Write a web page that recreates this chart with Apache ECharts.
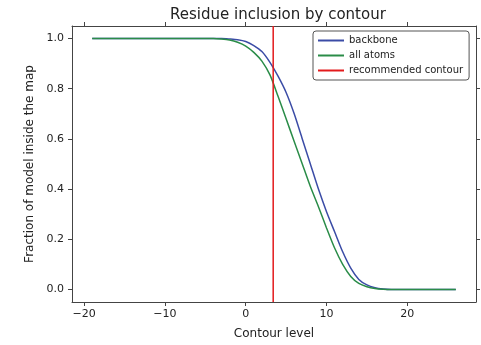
<!DOCTYPE html>
<html>
<head>
<meta charset="utf-8">
<script src="https://cdn.jsdelivr.net/npm/echarts@6/dist/echarts.min.js"></script>
<style>html,body{margin:0;padding:0;background:#fff}#c{width:481px;height:345px}</style>
</head>
<body>
<div id="c"></div>
<script>
const contour = [-19,-18,-17,-16,-15,-14,-13,-12,-11,-10,-9,-8,-7,-6,-5,-4,-3,-2,-1,0,1,2,3,4,5,6,7,8,9,10,11,12,13,14,15,16,17,18,19,20,21,22,23,24,25,26];
const backbone = [1,1,1,1,1,1,1,1,1,1,1,1,1,1,1,1,1,0.998,0.995,0.988,0.972,0.948,0.905,0.85,0.785,0.70,0.60,0.50,0.40,0.31,0.23,0.15,0.085,0.04,0.018,0.007,0.002,0,0,0,0,0,0,0,0,0];
const allAtoms = [1,1,1,1,1,1,1,1,1,1,1,1,1,1,1,1,0.998,0.994,0.985,0.97,0.945,0.91,0.855,0.77,0.68,0.59,0.50,0.41,0.33,0.245,0.165,0.10,0.052,0.024,0.011,0.004,0.001,0,0,0,0,0,0,0,0,0];
const recommended = 3.4;
const xTicks = [-20, -10, 0, 10, 20];
const yTicks = [0, 0.2, 0.4, 0.6, 0.8, 1.0];
const xMin = -21.5, xMax = 28.5;
const yMin = -0.05, yMax = 1.05;
const seriesNames = ['backbone', 'all atoms', 'recommended contour'];
const colors = ['#3b4ca6', '#2a8c48', '#e31a1c'];

const font = 'DejaVu Sans';
const fmt = v => (v < 0 ? '\u2212' + Math.abs(v) : String(v));
const axisLine = {show: true, onZero: false, lineStyle: {color: '#444', width: 1}};
const tick = vals => ({show: true, inside: false, length: 4, customValues: vals, lineStyle: {color: '#444'}});
const chart = echarts.init(document.getElementById('c'), null, {renderer: 'canvas'});
chart.setOption({
  animation: false,
  backgroundColor: '#fff',
  color: colors,
  title: {
    text: 'Residue inclusion by contour',
    left: 165, top: 3,
    textStyle: {fontFamily: font, fontSize: 15, fontWeight: 'normal', color: '#222'}
  },
  grid: {left: 72, right: 5, top: 26, bottom: 39},
  legend: {
    orient: 'vertical', left: 313, top: 31,
    data: seriesNames,
    icon: 'rect', itemWidth: 26, itemHeight: 2, itemGap: 4, itemTextGap: 9,
    padding: [4, 6, 4, 5],
    borderColor: '#555', borderWidth: 1, borderRadius: 3,
    backgroundColor: '#fff',
    textStyle: {fontFamily: font, fontSize: 10, lineHeight: 11, color: '#222'}
  },
  xAxis: [
    {
      type: 'value', min: xMin, max: xMax, splitLine: {show: false},
      axisLine: axisLine, axisTick: tick(xTicks),
      name: 'Contour level', nameLocation: 'middle', nameGap: 26,
      nameTextStyle: {fontFamily: font, fontSize: 12, color: '#222'},
      axisLabel: {customValues: xTicks, margin: 7, fontFamily: font, fontSize: 11, color: '#222', formatter: fmt}
    },
    {
      type: 'value', position: 'top', min: xMin, max: xMax, splitLine: {show: false},
      axisLine: axisLine, axisTick: tick(xTicks), axisLabel: {show: false}
    }
  ],
  yAxis: [
    {
      type: 'value', min: yMin, max: yMax, splitLine: {show: false},
      axisLine: axisLine, axisTick: tick(yTicks),
      name: 'Fraction of model inside the map', nameLocation: 'middle', nameGap: 35,
      nameTextStyle: {fontFamily: font, fontSize: 12, color: '#222'},
      axisLabel: {customValues: yTicks, margin: 8, fontFamily: font, fontSize: 11, color: '#222', formatter: v => v.toFixed(1)}
    },
    {
      type: 'value', position: 'right', min: yMin, max: yMax, splitLine: {show: false},
      axisLine: axisLine, axisTick: tick(yTicks), axisLabel: {show: false}
    }
  ],
  series: [
    {name: seriesNames[0], type: 'line', data: contour.map((x, i) => [x, backbone[i]]), showSymbol: false, smooth: 0.25, lineStyle: {width: 1.5}},
    {name: seriesNames[1], type: 'line', data: contour.map((x, i) => [x, allAtoms[i]]), showSymbol: false, smooth: 0.25, lineStyle: {width: 1.5}},
    {name: seriesNames[2], type: 'line', data: [[recommended, yMin], [recommended, yMax]], showSymbol: false, lineStyle: {width: 1.5}}
  ]
});
</script>
</body>
</html>
